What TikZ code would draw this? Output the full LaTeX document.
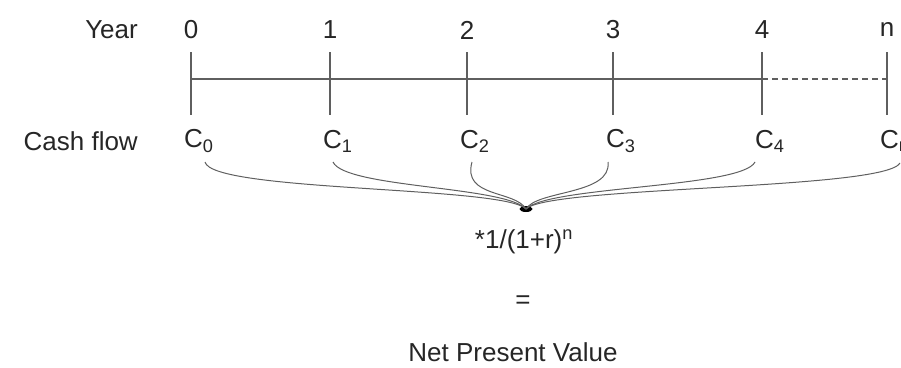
\documentclass[tikz,border=0pt]{standalone}
\usepackage{fontspec}
\setmainfont{Liberation Sans}
\usetikzlibrary{shapes.geometric, positioning, calc}
\definecolor{lineGray}{RGB}{95,95,95}

\begin{document}
\begin{tikzpicture}[x=1pt, y=-1pt,
  lbl/.style={font=\fontsize{26}{30}\selectfont, text=black!85, inner sep=0pt},
  tick/.style={draw=lineGray, line width=1.1pt},
  flow/.style={draw=lineGray, line width=1pt}]
  \useasboundingbox (0,0) rectangle (901,367);

  % time line
  \node[lbl, anchor=east] (yearlbl) at (138,30) {Year};
  \node[lbl, anchor=east] (cashlbl) at (138,141) {Cash flow};
  \foreach \n/\x/\t in {0/191/0, 1/330/1, 2/467/2, 3/613/3, 4/762/4, 5/887/n} {
    \node[lbl] (yr\n) at (\x,30) {\t};
    \coordinate (top\n) at (\x,52);
    \coordinate (bot\n) at (\x,115);
    \coordinate (mid\n) at (\x,79);
    \draw[tick] (top\n) -- (bot\n);
    \node[lbl, anchor=west] (cf\n) at (\x-7,141) {C\textsubscript{\t}};
  }
  \draw[tick] (mid0) -- (mid4);
  \draw[tick, dashed, dash pattern=on 6pt off 4pt] (mid4) -- (mid5);

  % discounting
  \node[ellipse, fill=black, inner sep=0pt, minimum width=13pt, minimum height=6pt] (hub) at (526,209) {};
  \foreach \n/\sx/\sy/\ax/\ay/\bx/\by in {0/205/162/212/192/505/186, 1/333/162/345/188/505/186,
      2/472/162/462/198/515/190, 3/608/162/612/195/537/190,
      4/755/162/742/188/548/186, 5/900/163/885/190/548/186} {
    \coordinate (foot\n) at (\sx,\sy);
    \draw[flow] (foot\n) .. controls (\ax,\ay) and (\bx,\by) .. (hub.center);
  }
  \node[lbl] (factor) at (524,242) {*1/(1+r)\textsuperscript{n}};
  \node[lbl] (equals) at (523,302) {=};
  \node[lbl] (npv) at (513,352) {Net Present Value};
\end{tikzpicture}
\end{document}
